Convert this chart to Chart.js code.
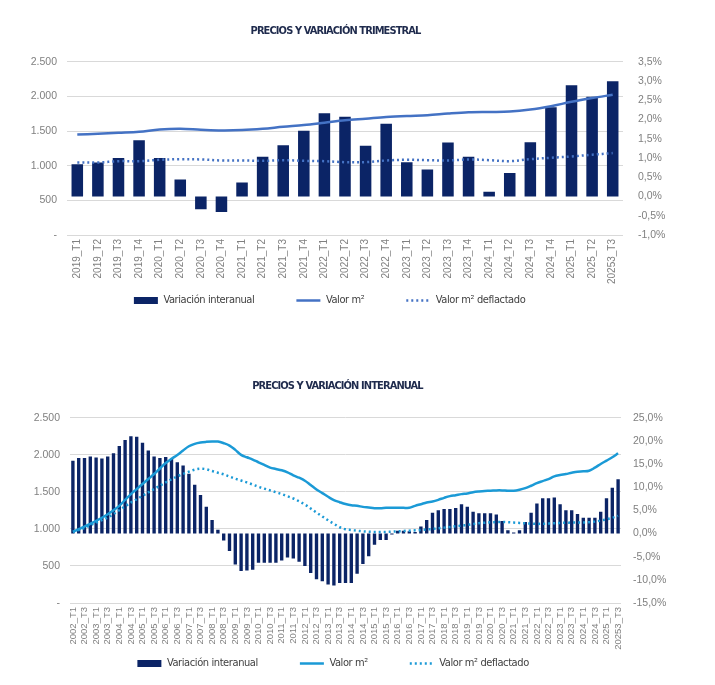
<!DOCTYPE html>
<html><head><meta charset="utf-8">
<script src="https://cdn.jsdelivr.net/npm/chart.js@4.4.1/dist/chart.umd.min.js"></script>
<style>
html,body{margin:0;padding:0;background:#fff;width:715px;height:685px;overflow:hidden}
.box{position:absolute;left:0;width:715px}
#b1{top:0;height:316px}
#b2{top:360px;height:319px}
</style></head><body>
<div class="box" id="b1"><canvas id="c1"></canvas></div>
<div class="box" id="b2"><canvas id="c2"></canvas></div>
<script>
// ---------- Chart 1: trimestral ----------
const q1Labels = ['2019_T1','2019_T2','2019_T3','2019_T4','2020_T1','2020_T2','2020_T3','2020_T4','2021_T1','2021_T2','2021_T3','2021_T4','2022_T1','2022_T2','2022_T3','2022_T4','2023_T1','2023_T2','2023_T3','2023_T4','2024_T1','2024_T2','2024_T3','2024_T4','2025_T1','2025_T2','20253_T3'];
const q1Variacion = [0.84,0.88,1.00,1.46,1.00,0.44,-0.33,-0.40,0.36,1.03,1.33,1.71,2.16,2.07,1.32,1.89,0.89,0.70,1.40,1.03,0.12,0.61,1.41,2.32,2.89,2.59,2.99];
const q1Valor = [1449,1459,1474,1490,1522,1532,1518,1508,1513,1532,1561,1586,1620,1655,1678,1702,1717,1727,1751,1770,1775,1780,1809,1858,1921,1975,2023];
const q1Deflactado = [1046,1046,1065,1065,1085,1094,1090,1075,1075,1070,1080,1070,1065,1050,1051,1075,1085,1080,1075,1090,1080,1065,1094,1114,1133,1158,1182];

// ---------- Chart 2: interanual ----------
const q2Labels = ['2002_T1','2002_T2','2002_T3','2002_T4','2003_T1','2003_T2','2003_T3','2003_T4','2004_T1','2004_T2','2004_T3','2004_T4','2005_T1','2005_T2','2005_T3','2005_T4','2006_T1','2006_T2','2006_T3','2006_T4','2007_T1','2007_T2','2007_T3','2007_T4','2008_T1','2008_T2','2008_T3','2008_T4','2009_T1','2009_T2','2009_T3','2009_T4','2010_T1','2010_T2','2010_T3','2010_T4','2011_T1','2011_T2','2011_T3','2011_T4','2012_T1','2012_T2','2012_T3','2012_T4','2013_T1','2013_T2','2013_T3','2013_T4','2014_T1','2014_T2','2014_T3','2014_T4','2015_T1','2015_T2','2015_T3','2015_T4','2016_T1','2016_T2','2016_T3','2016_T4','2017_T1','2017_T2','2017_T3','2017_T4','2018_T1','2018_T2','2018_T3','2018_T4','2019_T1','2019_T2','2019_T3','2019_T4','2020_T1','2020_T2','2020_T3','2020_T4','2021_T1','2021_T2','2021_T3','2021_T4','2022_T1','2022_T2','2022_T3','2022_T4','2023_T1','2023_T2','2023_T3','2023_T4','2024_T1','2024_T2','2024_T3','2024_T4','2025_T1','2025_T2','20253_T3'];
const q2Variacion = [15.7,16.3,16.3,16.6,16.4,16.2,16.6,17.3,18.9,20.2,21.0,20.9,19.6,17.9,16.6,16.3,16.5,16.1,15.4,14.7,12.9,10.5,8.3,5.8,2.9,0.8,-1.5,-3.8,-6.7,-8.1,-8.0,-7.8,-6.3,-6.3,-6.3,-6.3,-5.8,-5.2,-5.4,-6.1,-7.0,-8.5,-9.9,-10.3,-11.0,-11.2,-10.7,-10.7,-10.7,-8.7,-6.6,-4.9,-2.4,-1.4,-1.4,-0.2,0.6,0.6,0.5,0.3,1.5,2.9,4.5,5.0,5.3,5.3,5.5,6.3,5.8,4.7,4.4,4.4,4.4,4.1,2.7,0.7,0.2,0.7,2.5,4.5,6.5,7.6,7.6,7.8,6.3,5.0,5.0,4.2,3.4,3.4,3.4,4.7,7.6,9.9,11.7];
const q2Valor = [963,995,1031,1068,1107,1150,1198,1252,1311,1390,1469,1537,1605,1672,1740,1815,1889,1945,1998,2058,2115,2147,2165,2174,2179,2178,2156,2124,2066,1998,1966,1935,1898,1862,1826,1808,1790,1763,1722,1690,1650,1591,1532,1483,1433,1388,1360,1335,1318,1311,1297,1288,1279,1279,1284,1286,1286,1284,1284,1311,1333,1356,1370,1392,1419,1442,1455,1469,1478,1495,1505,1512,1514,1519,1519,1514,1514,1528,1550,1582,1618,1645,1672,1709,1727,1740,1758,1772,1776,1785,1826,1876,1921,1966,2020];
const q2Deflactado = [958,985,1012,1048,1085,1118,1153,1200,1252,1305,1356,1400,1446,1492,1537,1582,1627,1670,1709,1742,1772,1799,1812,1805,1780,1758,1736,1706,1677,1652,1627,1598,1568,1543,1519,1494,1469,1440,1410,1372,1329,1275,1220,1168,1116,1068,1022,994,985,975,967,962,958,958,958,962,967,972,976,980,985,992,999,1008,1017,1026,1035,1044,1053,1065,1076,1083,1089,1092,1094,1090,1085,1080,1076,1071,1067,1069,1071,1076,1080,1083,1085,1085,1085,1090,1098,1112,1130,1150,1175];

const NAVY = '#0b2466';
const GRID = '#d9d9d9';
const TICK = '#808080';
const TICKFONT = '"Liberation Sans", Arial, sans-serif';
const NARROW = '"Liberation Sans Narrow", "DejaVu Sans Condensed", "Liberation Sans", sans-serif';

function fmtLeft(v){ if (v === 0) return '-'; return String(v).replace(/\B(?=(\d{3})+(?!\d))/g, '.'); }
function fmtPct(v){ return Number(v).toFixed(1).replace('.', ',') + '%'; }

function legendGen(chart){
  return chart.data.datasets.map((ds, i) => ({
    text: ds.label,
    fillStyle: ds.type === 'bar' ? ds.backgroundColor : 'rgba(0,0,0,0)',
    strokeStyle: ds.borderColor,
    lineWidth: ds.type === 'bar' ? 0 : 2.5,
    lineDash: ds.borderDash || [],
    pointStyle: ds.type === 'bar' ? 'rect' : 'line',
    fontColor: '#404040',
    hidden: false,
    datasetIndex: i
  }));
}

// condensed look + horizontal placement of title and legend
function wrapBox(box, spacing, dx){
  if (!box || box._wrapped) return;
  const d = box.draw;
  box.draw = function(){
    const c = this.ctx; const p = c.letterSpacing;
    c.save(); c.translate(dx, 0); c.letterSpacing = spacing;
    d.apply(this, arguments);
    c.restore(); c.letterSpacing = p || '0px';
  };
  box._wrapped = true;
}
const boxTweaks = {
  id: 'boxTweaks',
  beforeDraw(chart, args, opts){
    wrapBox(chart.titleBlock, '-0.9px', opts.titleDx || 0);
    wrapBox(chart.legend, '-0.4px', opts.legendDx || 0);
  }
};

function makeChart(id, cfg){
  const lineColor = cfg.lineColor;
  return new Chart(document.getElementById(id), {
    plugins: [boxTweaks],
    data: {
      labels: cfg.labels,
      datasets: [
        { type: 'bar', label: 'Variación interanual', data: cfg.bars, yAxisID: 'yR',
          backgroundColor: NAVY, borderColor: NAVY, borderWidth: 0,
          barPercentage: cfg.barPct, categoryPercentage: 1.0, order: 3 },
        { type: 'line', label: 'Valor m²', data: cfg.valor, yAxisID: 'yL',
          borderColor: lineColor, backgroundColor: lineColor, borderWidth: 2.5,
          pointRadius: 0, tension: 0.35, order: 1 },
        { type: 'line', label: 'Valor m² deflactado', data: cfg.defl, yAxisID: 'yL',
          borderColor: lineColor, backgroundColor: lineColor, borderWidth: 2.5, borderDash: [2, 3],
          pointRadius: 0, tension: 0.35, order: 2 }
      ]
    },
    options: {
      responsive: true, maintainAspectRatio: false, animation: false,
      layout: { padding: { left: 0, right: 0, top: 0, bottom: 0 } },
      plugins: {
        boxTweaks: { titleDx: cfg.titleDx, legendDx: cfg.legendDx },
        tooltip: { enabled: false },
        title: { display: true, text: cfg.title, color: '#1f2b4d',
          font: { family: NARROW, size: 11, weight: 'bold', lineHeight: 1.2 },
          padding: { top: cfg.titleTop, bottom: cfg.titleBottom } },
        legend: { position: 'bottom', fullSize: false,
          labels: { usePointStyle: true, pointStyleWidth: 24, boxHeight: 7, padding: 42,
            color: '#404040', font: { family: NARROW, size: 11 }, generateLabels: legendGen } }
      },
      scales: {
        x: { grid: { display: false, drawTicks: false }, border: { display: false },
          afterFit: s => { s.height = cfg.xHeight; s._computeLabelArea = function(){ return undefined; }; },
          ticks: { autoSkip: false, maxRotation: 90, minRotation: 90, padding: 4, color: TICK,
            font: { family: TICKFONT, size: cfg.xFont },
            callback: function(v, i){ return (i % cfg.every === 0) ? this.getLabelForValue(v) : null; } } },
        yL: { position: 'left', min: cfg.lMin, max: cfg.lMax,
          afterFit: s => { s.width = cfg.leftW; },
          grid: { color: GRID, lineWidth: 1, drawTicks: false }, border: { display: false },
          ticks: { stepSize: 500, padding: 10, color: TICK, font: { family: TICKFONT, size: 10.5 }, callback: fmtLeft } },
        yR: { position: 'right', min: cfg.rMin, max: cfg.rMax,
          afterFit: s => { s.width = cfg.rightW; },
          grid: { display: false, drawTicks: false }, border: { display: false },
          ticks: { stepSize: cfg.rStep, padding: cfg.rPad, color: TICK, font: { family: TICKFONT, size: 10.5 }, callback: fmtPct } }
      }
    }
  });
}

makeChart('c1', {
  labels: q1Labels, bars: q1Variacion, valor: q1Valor, defl: q1Deflactado,
  title: 'PRECIOS Y VARIACIÓN TRIMESTRAL', lineColor: '#4472c4',
  barPct: 0.56, titleTop: 25, titleBottom: 23.5, titleDx: -22, legendDx: -6,
  xHeight: 18, xFont: 10, every: 1,
  lMin: 0, lMax: 2500, rMin: -1, rMax: 3.5, rStep: 0.5,
  leftW: 67, rightW: 92, rPad: 15
});

makeChart('c2', {
  labels: q2Labels, bars: q2Variacion, valor: q2Valor, defl: q2Deflactado,
  title: 'PRECIOS Y VARIACIÓN INTERANUAL', lineColor: '#1b9ad6',
  barPct: 0.58, titleTop: 20, titleBottom: 24.5, titleDx: -20, legendDx: -3,
  xHeight: 13, xFont: 9.5, every: 2,
  lMin: 0, lMax: 2500, rMin: -15, rMax: 25, rStep: 5,
  leftW: 70, rightW: 94, rPad: 12
});
</script>
</body></html>
